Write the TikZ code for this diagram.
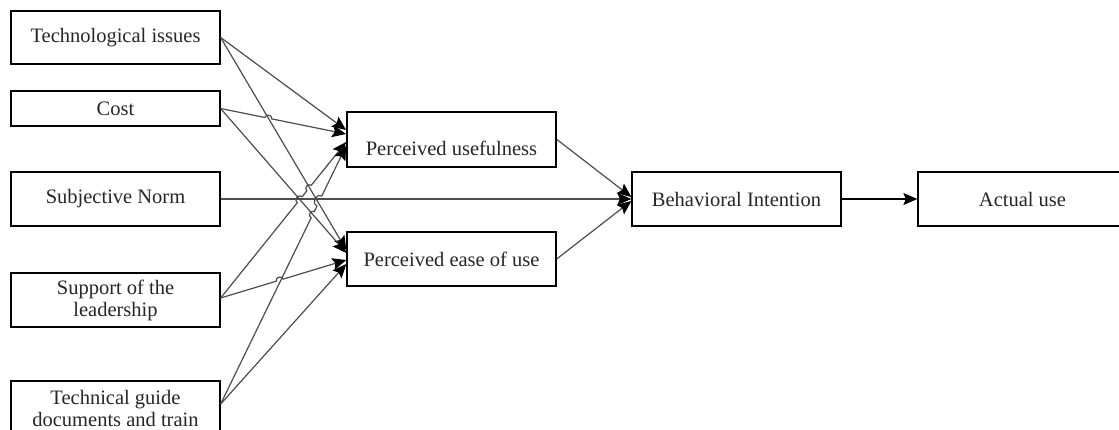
\documentclass[tikz,border=0pt]{standalone}
\usepackage{fontspec}
\setmainfont{Liberation Serif}
\usetikzlibrary{arrows.meta,calc}
\begin{document}
\begin{tikzpicture}[x=1pt,y=-1pt,
  box/.style={draw=black, line width=1.3pt, minimum width=209pt, minimum height=54pt,
    inner sep=0pt, align=center, font=\fontsize{20.5}{22}\selectfont, text=black!85},
  txt/.style={inner sep=0pt, align=center, font=\fontsize{20.5}{22}\selectfont, text=black!85},
  conn/.style={draw=black!70, line width=1.2pt, -{Stealth[length=14pt,width=12pt,inset=2.5pt,color=black]}},
  hop/.style={bend left=90, looseness=1.5},
]
\useasboundingbox (0,0) rectangle (1119,429);
\clip (0,0) rectangle (1119,429);

% source boxes
\node[box, minimum height=53pt] (ti) at (115.5,37.5) {Technological issues};
\node[box, minimum height=35pt] (cost) at (115.5,108.5) {Cost};
\node[box] (sn) at (115.5,199) {Subjective Norm};
\node[box] (sl) at (115.5,300) {Support of the\\leadership};
\node[box] (tg) at (115.5,408) {Technical guide\\documents and train};

% middle / right boxes
\node[box, minimum height=55pt, line width=1.8pt] (pu) at (451.5,139.5) {};
\node[txt] (putext) at (451.5,148) {Perceived usefulness};
\node[box] (peou) at (451.5,259) {Perceived ease of use};
\node[box] (bi) at (736.5,199) {Behavioral Intention};
\node[box] (au) at (1022.5,199) {Actual use};

% connector end points
\coordinate (tiS) at (ti.east);
\coordinate (coS) at (cost.east);
\coordinate (slS) at ($(sl.east)+(0,-2)$);
\coordinate (tgS) at ($(tg.east)+(0,-4)$);
\coordinate (puA) at ($(pu.west)+(0,-9.5)$);
\coordinate (puB) at ($(pu.west)+(0,-5.5)$);
\coordinate (puC) at ($(pu.west)+(0,2.5)$);
\coordinate (puD) at ($(pu.west)+(0,6.5)$);
\coordinate (peA) at ($(peou.west)+(0,-9)$);
\coordinate (peB) at ($(peou.west)+(0,-6)$);
\coordinate (peC) at ($(peou.west)+(0,1)$);
\coordinate (peD) at ($(peou.west)+(0,5)$);

% straight connectors
\draw[conn] (tiS) -- (puA);
\draw[conn] (tiS) -- (peA);
\draw[conn] (coS) -- (peB);
\draw[conn] (sn.east) -- (bi.west);
\draw[conn] (tgS) -- (peD);

% connectors with line hops
\draw[conn] (coS)
  -- ($(coS)!0.380!(puB)!3.5pt!(coS)$) to[hop] ($(coS)!0.380!(puB)!3.5pt!(puB)$)
  -- (puB);
\draw[conn] (slS)
  -- ($(slS)!0.630!(puC)!4pt!(slS)$) to[hop] ($(slS)!0.630!(puC)!4pt!(puC)$)
  -- ($(slS)!0.705!(puC)!3.5pt!(slS)$) to[hop] ($(slS)!0.705!(puC)!3.5pt!(puC)$)
  -- (puC);
\draw[conn] (tgS)
  -- ($(tgS)!0.734!(puD)!3.5pt!(tgS)$) to[hop] ($(tgS)!0.734!(puD)!3.5pt!(puD)$)
  -- ($(tgS)!0.787!(puD)!5.5pt!(tgS)$) to[hop] ($(tgS)!0.787!(puD)!5.5pt!(puD)$)
  -- (puD);
\draw[conn] (slS)
  -- ($(slS)!0.470!(peC)!3.5pt!(slS)$) to[hop] ($(slS)!0.470!(peC)!3.5pt!(peC)$)
  -- (peC);

% to behavioral intention and actual use
\draw[conn] (pu.east) -- ($(bi.west)+(0,-2)$);
\draw[conn] (peou.east) -- ($(bi.west)+(0,2)$);
\draw[conn, draw=black] (bi.east) -- (au.west);
\end{tikzpicture}
\end{document}
